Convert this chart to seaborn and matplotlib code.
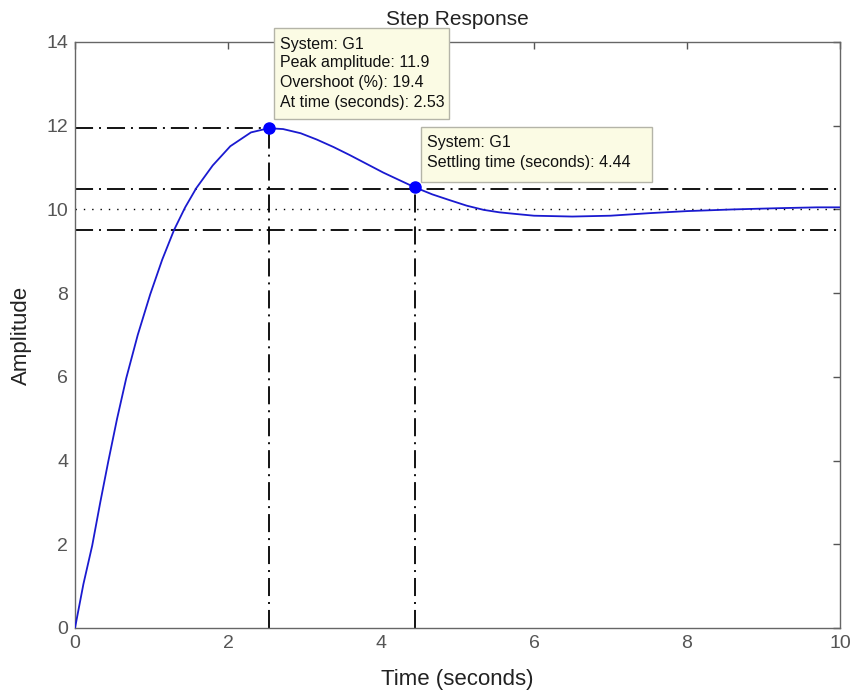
import matplotlib
matplotlib.use("Agg")
import matplotlib.pyplot as plt
import seaborn as sns
import pandas as pd
from matplotlib.patches import Rectangle

# ---- data ----
time_s = [0.0, 0.11, 0.225, 0.33, 0.434, 0.55, 0.67, 0.82, 0.983, 1.14, 1.295,
          1.44, 1.586, 1.8, 2.03, 2.30, 2.53, 2.72, 2.95, 3.16, 3.38, 3.59,
          3.81, 4.03, 4.24, 4.44, 4.67, 4.90, 5.12, 5.34, 5.55, 5.77, 6.0,
          6.5, 7.0, 7.5, 8.0, 8.6, 9.2, 9.7, 10.0]
amplitude = [0.0, 1.05, 1.97, 3.0, 3.97, 5.0, 5.97, 7.0, 7.97, 8.8, 9.51,
             10.05, 10.51, 11.05, 11.51, 11.84, 11.94, 11.92, 11.82, 11.67,
             11.49, 11.3, 11.09, 10.88, 10.7, 10.53, 10.36, 10.22, 10.09, 9.99,
             9.93, 9.89, 9.85, 9.83, 9.85, 9.91, 9.96, 10.0, 10.03, 10.05, 10.05]
peak_time, peak_amp = 2.53, 11.94
settle_time, settle_amp = 4.44, 10.53
final_value = 10.0
band_upper, band_lower = 10.5, 9.5
x_ticks = [0, 2, 4, 6, 8, 10]
y_ticks = [0, 2, 4, 6, 8, 10, 12, 14]
tip1_lines = ["System: G1", "Peak amplitude: 11.9", "Overshoot (%): 19.4",
              "At time (seconds): 2.53"]
tip2_lines = ["System: G1", "Settling time (seconds): 4.44"]

df = pd.DataFrame({"Time (seconds)": time_s, "Amplitude": amplitude})

sns.set_theme(style="white")
plt.rcParams["font.family"] = ["Liberation Sans", "DejaVu Sans"]

W, H = 851, 694
fig = plt.figure(figsize=(W / 100, H / 100), dpi=100)
L, R, T, B = 75, 840, 42, 628
ax = fig.add_axes([L / W, (H - B) / H, (R - L) / W, (B - T) / H])

dashdot = (0, (10, 3.3, 1.1, 3.3))
kw = dict(color="black", lw=1.3, ls=dashdot, zorder=2)
ax.plot([0, peak_time], [peak_amp, peak_amp], **kw)
ax.plot([peak_time, peak_time], [0, peak_amp], **kw)
ax.plot([settle_time, settle_time], [0, settle_amp], **kw)
ax.axhline(band_upper, **kw)
ax.axhline(band_lower, **kw)
ax.axhline(final_value, color="black", lw=1.0, ls=(0, (1, 5)), zorder=2)

sns.lineplot(data=df, x="Time (seconds)", y="Amplitude", color="#1a1ad0",
             lw=1.3, ax=ax, zorder=3)
ax.plot([peak_time, settle_time], [peak_amp, settle_amp], "o",
        color="#0000ff", ms=8, zorder=4)

ax.set_xlim(0, 10)
ax.set_ylim(0, 14)
ax.set_xticks(x_ticks)
ax.set_yticks(y_ticks)
ax.set_xticklabels([str(v) for v in x_ticks])
ax.set_yticklabels([str(v) for v in y_ticks])
ax.tick_params(direction="in", length=5, width=1, color="#555555",
               top=True, right=True, labelsize=14, labelcolor="#555555")
ax.tick_params(axis="x", pad=5)
ax.tick_params(axis="y", pad=5)
for s in ax.spines.values():
    s.set_color("#666666")
    s.set_linewidth(1.0)

ax.set_xlabel("Time (seconds)", fontsize=16, color="#222222", labelpad=12)
ax.set_ylabel("Amplitude", fontsize=16, color="#222222", labelpad=10)
ax.set_title("Step Response", fontsize=15, color="#222222", pad=12)

# datatip boxes (pixel layout -> data coords)
def px2d(px, py):
    return (px - L) / (R - L) * 10, (B - py) / (B - T) * 14

def tip(box_px, text_x_px, line_y_px, lines):
    x0, y0 = px2d(box_px[0], box_px[3])
    x1, y1 = px2d(box_px[2], box_px[1])
    ax.add_patch(Rectangle((x0, y0), x1 - x0, y1 - y0, facecolor="#fbfbe4",
                           edgecolor="#b4b4a8", lw=1.0, clip_on=False, zorder=5))
    for ly, txt in zip(line_y_px, lines):
        tx, ty = px2d(text_x_px, ly)
        ax.text(tx, ty, txt, fontsize=11.5, color="#111111", ha="left",
                va="center", clip_on=False, zorder=6)

tip((274, 28, 449, 119), 280, [44, 63, 83, 103], tip1_lines)
tip((421, 127, 652, 182), 427, [143, 163], tip2_lines)

fig.savefig("out.png", dpi=100, facecolor="white")
